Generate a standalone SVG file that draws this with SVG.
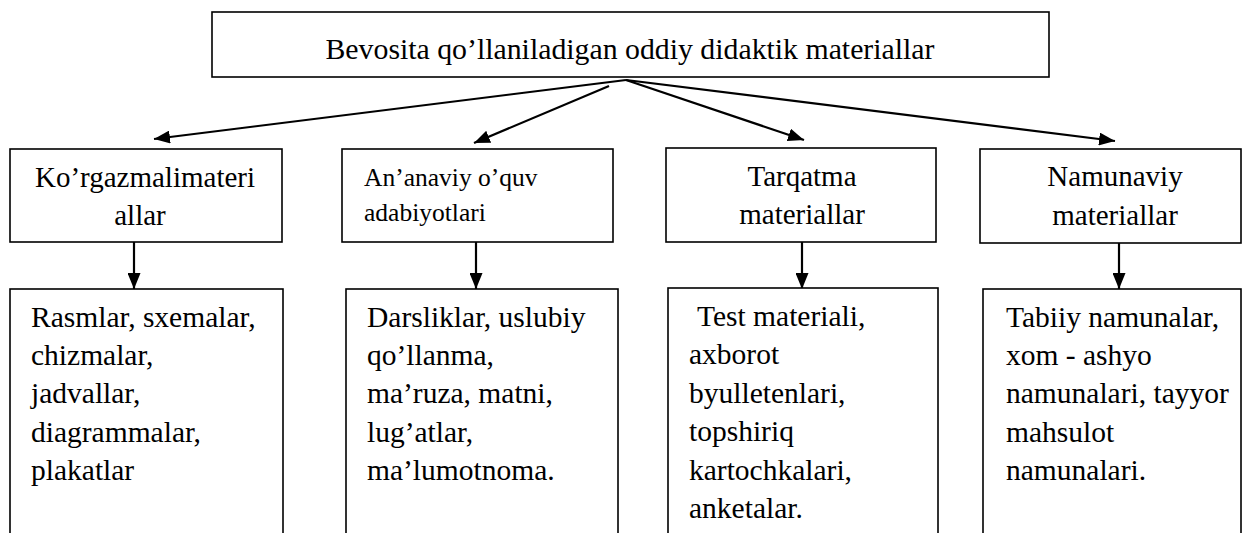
<svg xmlns="http://www.w3.org/2000/svg" width="1242" height="533" viewBox="0 0 1242 533">
<style>
.box{fill:#fff;stroke:#000;stroke-width:1.6}
.t{font-family:"Liberation Serif","Times New Roman",serif;fill:#000}
.top{font-size:29.8px}
.l2{font-size:29px}
.l2s{font-size:25.5px}
.l3{font-size:29.5px}
.c{text-anchor:middle}
.con{stroke:#000;stroke-width:2.2;fill:none}
</style>
<defs>
<marker id="ah" viewBox="0 0 16 13" refX="16" refY="6.5" markerWidth="16" markerHeight="13" markerUnits="userSpaceOnUse" orient="auto">
<path d="M0,0 L16,6.5 L0,13 z" fill="#000"/>
</marker>
</defs>
<rect width="1242" height="533" fill="#fff"/>
<g id="connectors">
<line class="con" x1="626" y1="80" x2="154" y2="139" marker-end="url(#ah)"/>
<line class="con" x1="609" y1="86" x2="474" y2="143" marker-end="url(#ah)"/>
<line class="con" x1="626" y1="80" x2="804" y2="140" marker-end="url(#ah)"/>
<line class="con" x1="626" y1="80" x2="1115" y2="141" marker-end="url(#ah)"/>
<line class="con" x1="134" y1="242" x2="134" y2="289" marker-end="url(#ah)"/>
<line class="con" x1="476" y1="242" x2="476" y2="289" marker-end="url(#ah)"/>
<line class="con" x1="802" y1="242" x2="802" y2="289" marker-end="url(#ah)"/>
<line class="con" x1="1119" y1="243" x2="1119" y2="289" marker-end="url(#ah)"/>
</g>
<g id="root">
<rect class="box" x="212" y="12" width="837" height="65"/>
<text class="t top c" x="630" y="59">Bevosita qo’llaniladigan oddiy didaktik materiallar</text>
</g>
<g id="n1">
<rect class="box" x="10" y="149" width="272" height="93"/>
<text class="t l2 c" x="145" y="187">Ko’rgazmalimateri</text>
<text class="t l2 c" x="140" y="225">allar</text>
</g>
<g id="n2">
<rect class="box" x="342" y="149" width="271" height="93"/>
<text class="t l2s" x="364" y="186">An’anaviy o’quv</text>
<text class="t l2s" x="364" y="221">adabiyotlari</text>
</g>
<g id="n3">
<rect class="box" x="666" y="148" width="270" height="94"/>
<text class="t l2 c" x="802" y="186">Tarqatma</text>
<text class="t l2 c" x="802" y="224">materiallar</text>
</g>
<g id="n4">
<rect class="box" x="980" y="149" width="261" height="94"/>
<text class="t l2 c" x="1115" y="186">Namunaviy</text>
<text class="t l2 c" x="1115" y="225">materiallar</text>
</g>
<g id="d1">
<rect class="box" x="10" y="289" width="273" height="260"/>
<text class="t l3"><tspan x="31" y="327">Rasmlar, sxemalar,</tspan><tspan x="31" y="365">chizmalar,</tspan><tspan x="31" y="403">jadvallar,</tspan><tspan x="31" y="442">diagrammalar,</tspan><tspan x="31" y="480">plakatlar</tspan></text>
</g>
<g id="d2">
<rect class="box" x="346" y="289" width="272" height="260"/>
<text class="t l3"><tspan x="367" y="327">Darsliklar, uslubiy</tspan><tspan x="367" y="365">qo’llanma,</tspan><tspan x="367" y="403">ma’ruza, matni,</tspan><tspan x="367" y="442">lug’atlar,</tspan><tspan x="367" y="480">ma’lumotnoma.</tspan></text>
</g>
<g id="d3">
<rect class="box" x="668" y="288" width="270" height="260"/>
<text class="t l3"><tspan x="697" y="326">Test materiali,</tspan><tspan x="689" y="364">axborot</tspan><tspan x="689" y="403">byulletenlari,</tspan><tspan x="689" y="441">topshiriq</tspan><tspan x="689" y="480">kartochkalari,</tspan><tspan x="689" y="518">anketalar.</tspan></text>
</g>
<g id="d4">
<rect class="box" x="983" y="289" width="258" height="260"/>
<text class="t l3"><tspan x="1006" y="327">Tabiiy namunalar,</tspan><tspan x="1006" y="365">xom - ashyo</tspan><tspan x="1006" y="403">namunalari, tayyor</tspan><tspan x="1006" y="442">mahsulot</tspan><tspan x="1006" y="480">namunalari.</tspan></text>
</g>
</svg>
